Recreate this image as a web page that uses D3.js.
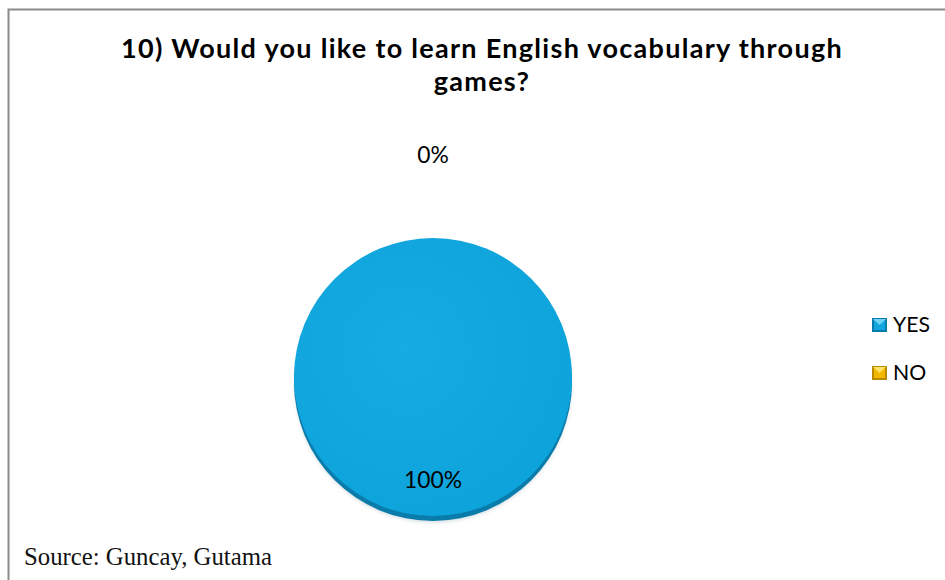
<!DOCTYPE html>
<html>
<head>
<meta charset="utf-8">
<script src="https://cdn.jsdelivr.net/npm/d3@7"></script>
<style>
  html, body { margin: 0; padding: 0; background: #ffffff; }
  svg { display: block; }
</style>
</head>
<body>
<svg id="chart" width="945" height="580"></svg>
<script>
// Survey answers for question 10
const categories = ["YES", "NO"];
const values = [100, 0];              // percent of respondents
const titleLines = ["10) Would you like to learn English vocabulary through", "games?"];
const sourceNote = "Source: Guncay, Gutama";

const W = 945, H = 580;
const SANS = "Lato, 'Open Sans', sans-serif";
const svg = d3.select("#chart");

const colors = d3.scaleOrdinal()
  .domain(categories)
  .range(["#13a5dd", "#f2b800"]);
const rimColors = d3.scaleOrdinal()
  .domain(categories)
  .range(["#0a7cab", "#b88a00"]);
const lightColors = d3.scaleOrdinal()
  .domain(categories)
  .range(["#6fd3f5", "#ffe36a"]);

const defs = svg.append("defs");
const grad = defs.append("radialGradient")
  .attr("id", "pieFill").attr("cx", "40%").attr("cy", "40%").attr("r", "70%");
grad.append("stop").attr("offset", "0%").attr("stop-color", "#17abe3");
grad.append("stop").attr("offset", "100%").attr("stop-color", "#0ca2da");

const shadow = defs.append("filter").attr("id", "rimShadow")
  .attr("x", "-20%").attr("y", "-20%").attr("width", "140%").attr("height", "140%");
shadow.append("feGaussianBlur").attr("stdDeviation", 2.5);

// chart frame (only the top and left edges fall inside the page)
svg.append("rect")
  .attr("x", 8.5).attr("y", 9.5)
  .attr("width", W + 20).attr("height", H + 20)
  .attr("fill", "none")
  .attr("stroke", "#8a8a8a")
  .attr("stroke-width", 2);

// font size that makes a text element span the given width
function fitSize(sel, target) {
  const fs = parseFloat(sel.attr("font-size"));
  const w = sel.node().getComputedTextLength();
  return w > 0 ? +(fs * target / w).toFixed(2) : fs;
}
// letter spacing that makes a text element span the given width
function fitSpacing(sel, target) {
  const w = sel.node().getComputedTextLength();
  const n = sel.text().length;
  return n > 1 ? +((target - w) / n).toFixed(3) : 0;
}

// title
const title = svg.append("g").attr("class", "title")
  .attr("font-family", SANS)
  .attr("font-weight", "bold")
  .attr("fill", "#000");
const tSize = 27;
const t1 = title.append("text").attr("x", 482).attr("y", 58)
  .attr("text-anchor", "middle").attr("font-size", tSize).text(titleLines[0]);
const tSpacing = fitSpacing(t1, 722);
t1.attr("letter-spacing", tSpacing);
title.append("text").attr("x", 482).attr("y", 91)
  .attr("text-anchor", "middle").attr("font-size", tSize)
  .attr("letter-spacing", tSpacing).text(titleLines[1]);

// pie
const cx = 433, cy = 377, r = 139;
const g = svg.append("g").attr("transform", `translate(${cx},${cy})`);

const data = categories.map((c, i) => ({ cat: c, value: values[i] }));
const pie = d3.pie().sort(null).value(d => d.value);
const arcs = pie(data);
const arc = d3.arc().innerRadius(0).outerRadius(r);
const labelArc = d3.arc().innerRadius(r * 0.74).outerRadius(r * 0.74);
const outsideArc = d3.arc().innerRadius(r * 1.6).outerRadius(r * 1.6);

// soft drop shadow and darker rim under the top face
g.append("ellipse")
  .attr("cx", 0).attr("cy", 7).attr("rx", r - 2).attr("ry", r - 2)
  .attr("fill", "#5a7f8e").attr("opacity", 0.45)
  .attr("filter", "url(#rimShadow)");
g.selectAll("path.rim")
  .data(arcs.filter(d => d.value > 0))
  .join("path")
  .attr("class", "rim")
  .attr("transform", "translate(0,5)")
  .attr("d", arc)
  .attr("fill", d => rimColors(d.data.cat));

g.selectAll("path.slice")
  .data(arcs.filter(d => d.value > 0))
  .join("path")
  .attr("class", "slice")
  .attr("d", arc)
  .attr("fill", d => d.data.cat === "YES" ? "url(#pieFill)" : colors(d.data.cat));

// data labels
const labels = g.selectAll("text.lbl")
  .data(arcs)
  .join("text")
  .attr("class", "lbl")
  .attr("transform", d => {
    const p = (d.value > 0 ? labelArc : outsideArc).centroid(d);
    return `translate(${p[0]},${p[1]})`;
  })
  .attr("text-anchor", "middle")
  .attr("dy", "0.35em")
  .attr("font-family", SANS)
  .attr("font-size", 22)
  .attr("fill", "#000")
  .text(d => Math.round(d.value) + "%");
const lblSize = fitSize(labels.filter(d => d.value > 0), 58);
labels.attr("font-size", lblSize);

// legend
const legend = svg.append("g").attr("transform", "translate(872,318)");
const item = legend.selectAll("g.item")
  .data(categories)
  .join("g")
  .attr("class", "item")
  .attr("transform", (d, i) => `translate(0,${i * 48})`);
const ms = 15, mh = 14;
item.append("rect")
  .attr("width", ms).attr("height", mh)
  .attr("fill", d => rimColors(d));
item.append("rect")
  .attr("x", 2).attr("y", 2).attr("width", ms - 4).attr("height", mh - 4)
  .attr("fill", d => colors(d));
item.append("path")
  .attr("d", `M1,1 L${ms - 1},1 L${ms / 2},${mh / 2} Z`)
  .attr("fill", d => lightColors(d));
const legText = item.append("text")
  .attr("x", 21).attr("y", 14)
  .attr("font-family", SANS)
  .attr("font-size", 22)
  .attr("fill", "#000")
  .text(d => d);
legText.attr("font-size", fitSize(legText.filter(d => d === "YES"), 37));

// source note
const src = svg.append("text")
  .attr("x", 24).attr("y", 565)
  .attr("font-family", "'Liberation Serif', 'Times New Roman', serif")
  .attr("font-size", 21)
  .attr("fill", "#111")
  .text(sourceNote);
src.attr("font-size", fitSize(src, 248));
</script>
</body>
</html>
